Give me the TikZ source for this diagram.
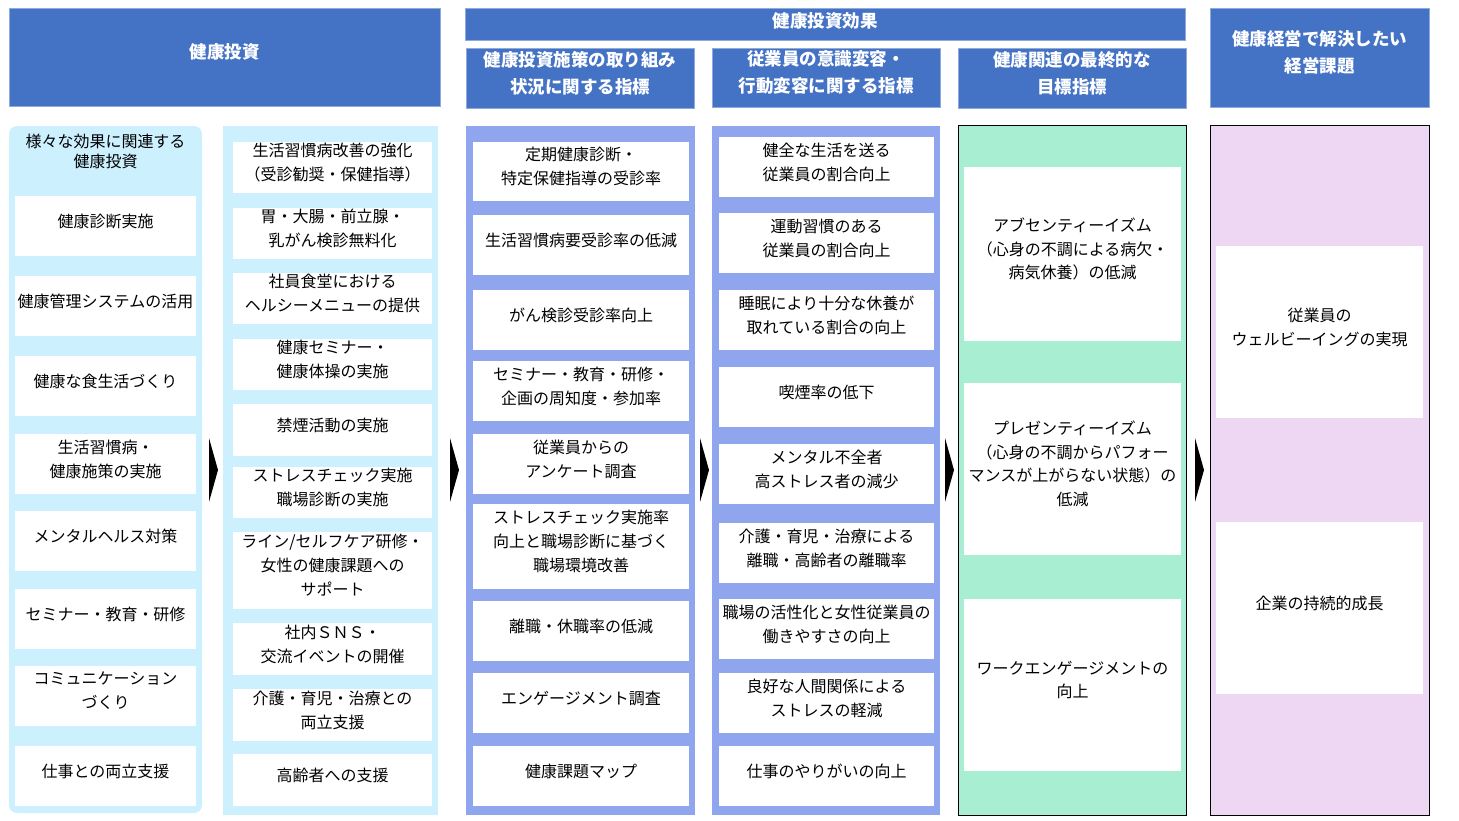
\documentclass[tikz,border=0pt]{standalone}
\usepackage{fontspec}
\setmainfont{Noto Sans CJK JP}
\definecolor{hdblue}{HTML}{4472C4}
\definecolor{hdline}{HTML}{8FAADC}
\definecolor{skyfill}{HTML}{CCF0FE}
\definecolor{lavblue}{HTML}{8FA5EE}
\definecolor{mintfill}{HTML}{A8EED2}
\definecolor{lilacfill}{HTML}{EDD7F3}
\begin{document}
\begin{tikzpicture}[x=1pt, y=-1pt,
	head/.style={fill=hdblue, draw=hdline, line width=0.6pt, inner sep=0pt},
	headtext/.style={text=white, font=\bfseries\fontsize{17.5}{27}\selectfont, align=center},
	lane/.style={inner sep=0pt},
	cell/.style={fill=white, inner sep=0pt},
	celltext/.style={font=\fontsize{16}{24}\selectfont, align=center}]
	\useasboundingbox [fill=white] (0, 0) rectangle (1459, 820);
	\foreach \xa/\ya/\xb/\yb/\s/\n/\t in {9/8/440/106/5/hInv/{健康投資}, 465/8/1185/40/3/hEff/{健康投資効果},
		466/48/694/108/5/hAct/{健康投資施策の取り組み\\状況に関する指標}, 712/48/940/107/5/hAware/{従業員の意識変容・\\行動変容に関する指標},
		958/48/1186/108/5/hGoal/{健康関連の最終的な\\目標指標}, 1210/8/1429/107/5/hIssue/{健康経営で解決したい\\経営課題}} {
		\pgfmathsetmacro\w{\xb-\xa}
		\pgfmathsetmacro\h{\yb-\ya}
		\node [head, minimum width=\w pt, minimum height=\h pt] (\n) at ({(\xa+\xb)/2}, {(\ya+\yb)/2}) {};
		\node [headtext] (\n-t) at ([yshift=\s pt]\n.center) {\t};
	}
	\node [lane, fill=skyfill, rounded corners=8pt, minimum width=193pt, minimum height=687pt] (lnA) at (105.5, 469.5) {};
	\node [lane, fill=skyfill, minimum width=215pt, minimum height=689pt] (lnB) at (330.5, 470.5) {};
	\node [lane, fill=lavblue, minimum width=229pt, minimum height=689pt] (lnC) at (580.5, 470.5) {};
	\node [lane, fill=lavblue, minimum width=228pt, minimum height=689pt] (lnD) at (826, 470.5) {};
	\node [lane, fill=mintfill, draw=black, line width=0.8pt, minimum width=228pt, minimum height=690pt] (lnE) at (1072, 470) {};
	\node [lane, fill=lilacfill, draw=black, line width=0.8pt, minimum width=219pt, minimum height=690pt] (lnF) at (1319.5, 470) {};
	\node [celltext, font=\fontsize{16}{20}\selectfont] (lnA-t) at (105.5, 151) {様々な効果に関連する\\健康投資};
	\foreach \ya/\yb/\t [count=\i] in {196/256/{健康診断実施}, 276/336/{健康管理システムの活用}, 356/416/{健康な食生活づくり},
		434/494/{生活習慣病・\\健康施策の実施}, 511/571/{メンタルヘルス対策}, 589/649/{セミナー・教育・研修},
		666/726/{コミュニケーション\\づくり}, 746/806/{仕事との両立支援}} {
		\pgfmathsetmacro\h{\yb-\ya}
		\node [cell, minimum width=181pt, minimum height=\h pt] (a\i) at (105.5, {(\ya+\yb)/2}) {};
		\node [celltext] (a\i-t) at ([yshift=5pt]a\i.center) {\t};
	}
	\foreach \ya/\yb/\t [count=\i] in {142/193/{生活習慣病改善の強化\\（受診勧奨・保健指導）}, 208/259/{胃・大腸・前立腺・\\乳がん検診無料化},
		273/324/{社員食堂における\\ヘルシーメニューの提供}, 339/390/{健康セミナー・\\健康体操の実施}, 404/456/{禁煙活動の実施},
		467/518/{ストレスチェック実施\\職場診断の実施}, 532/609/{ライン/セルフケア研修・\\女性の健康課題への\\サポート},
		623/675/{社内ＳＮＳ・\\交流イベントの開催}, 689/741/{介護・育児・治療との\\両立支援}, 754/806/{高齢者への支援}} {
		\pgfmathsetmacro\h{\yb-\ya}
		\node [cell, minimum width=199pt, minimum height=\h pt] (b\i) at (332.5, {(\ya+\yb)/2}) {};
		\node [celltext] (b\i-t) at ([yshift=5pt]b\i.center) {\t};
	}
	\foreach \ya/\yb/\t [count=\i] in {142/201/{定期健康診断・\\特定保健指導の受診率}, 215/275/{生活習慣病要受診率の低減},
		290/350/{がん検診受診率向上}, 361/421/{セミナー・教育・研修・\\企画の周知度・参加率}, 434/494/{従業員からの\\アンケート調査},
		504/589/{ストレスチェック実施率\\向上と職場診断に基づく\\職場環境改善}, 601/661/{離職・休職率の低減},
		673/733/{エンゲージメント調査}, 746/806/{健康課題マップ}} {
		\pgfmathsetmacro\h{\yb-\ya}
		\node [cell, minimum width=216pt, minimum height=\h pt] (c\i) at (581, {(\ya+\yb)/2}) {};
		\node [celltext] (c\i-t) at ([yshift=5pt]c\i.center) {\t};
	}
	\foreach \ya/\yb/\t [count=\i] in {137/197/{健全な生活を送る\\従業員の割合向上}, 213/273/{運動習慣のある\\従業員の割合向上},
		290/350/{睡眠により十分な休養が\\取れている割合の向上}, 367/427/{喫煙率の低下}, 444/504/{メンタル不全者\\高ストレス者の減少},
		523/583/{介護・育児・治療による\\離職・高齢者の離職率}, 599/659/{職場の活性化と女性従業員の\\働きやすさの向上},
		673/733/{良好な人間関係による\\ストレスの軽減}, 746/806/{仕事のやりがいの向上}} {
		\pgfmathsetmacro\h{\yb-\ya}
		\node [cell, minimum width=215pt, minimum height=\h pt] (d\i) at (826.5, {(\ya+\yb)/2}) {};
		\node [celltext] (d\i-t) at ([yshift=5pt]d\i.center) {\t};
	}
	\foreach \ya/\yb/\t [count=\i] in {167/341/{アブセンティーイズム\\（心身の不調による病欠・\\病気休養）の低減},
		383/555/{プレゼンティーイズム\\（心身の不調からパフォー\\マンスが上がらない状態）の\\低減},
		599/771/{ワークエンゲージメントの\\向上}} {
		\pgfmathsetmacro\h{\yb-\ya}
		\node [cell, minimum width=217pt, minimum height=\h pt] (e\i) at (1072.5, {(\ya+\yb)/2}) {};
		\node [celltext, font=\fontsize{16}{23.5}\selectfont] (e\i-t) at ([yshift=5pt]e\i.center) {\t};
	}
	\foreach \ya/\yb/\t [count=\i] in {246/418/{従業員の\\ウェルビーイングの実現}, 522/694/{企業の持続的成長}} {
		\pgfmathsetmacro\h{\yb-\ya}
		\node [cell, minimum width=207pt, minimum height=\h pt] (f\i) at (1319.5, {(\ya+\yb)/2}) {};
		\node [celltext] (f\i-t) at ([yshift=5pt]f\i.center) {\t};
	}
	\foreach \xa in {209, 450, 700, 945, 1195} {
		\fill (\xa, 438) -- (\xa + 9, 470) -- (\xa, 502) -- cycle;
	}
\end{tikzpicture}
\end{document}
